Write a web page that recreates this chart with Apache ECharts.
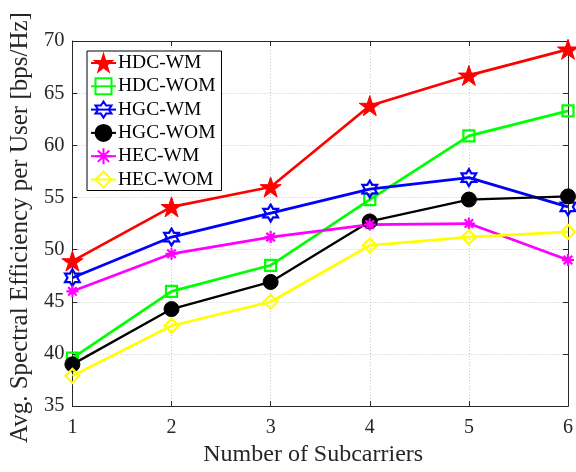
<!DOCTYPE html>
<html>
<head>
<meta charset="utf-8">
<script src="https://cdn.jsdelivr.net/npm/echarts@6/dist/echarts.min.js"></script>
<style>
  html, body { margin: 0; padding: 0; background: #fff; }
  #chart { width: 576px; height: 472px; }
</style>
</head>
<body>
<div id="chart"></div>
<script>
// Average spectral efficiency per user vs. number of subcarriers
const subcarriers = [1, 2, 3, 4, 5, 6];
const xTicks = [1, 2, 3, 4, 5, 6];
const yTicks = [35, 40, 45, 50, 55, 60, 65, 70];

const hdcWM  = [48.9, 54.1, 56.0, 63.8, 66.7, 69.2];
const hdcWOM = [39.6, 46.0, 48.5, 54.8, 60.9, 63.3];
const hgcWM  = [47.3, 51.2, 53.5, 55.8, 56.9, 54.1];
const hgcWOM = [39.0, 44.3, 46.9, 52.7, 54.8, 55.1];
const hecWM  = [46.0, 49.6, 51.2, 52.4, 52.5, 49.0];
const hecWOM = [37.9, 42.7, 45.0, 50.4, 51.2, 51.7];

const seriesNames = ['HDC-WM', 'HDC-WOM', 'HGC-WM', 'HGC-WOM', 'HEC-WM', 'HEC-WOM'];

const FONT = '"Liberation Serif", "Times New Roman", serif';
const INK = '#262626';

// marker shapes
const pentagram = 'path://M0,-1L0.2245,-0.309L0.951,-0.309L0.363,0.118L0.588,0.809L0,0.382L-0.588,0.809L-0.363,0.118L-0.951,-0.309L-0.2245,-0.309Z';
const hexagram = 'path://M0,-1L0.2887,-0.5L0.866,-0.5L0.577,0L0.866,0.5L0.2887,0.5L0,1L-0.2887,0.5L-0.866,0.5L-0.577,0L-0.866,-0.5L-0.2887,-0.5Z';
const asterisk = 'path://M0,-1L0,1M-1,0L1,0M-0.707,-0.707L0.707,0.707M-0.707,0.707L0.707,-0.707';

function pairs(values) {
  return subcarriers.map((x, i) => [x, values[i]]);
}

function makeSeries(name, values, color, symbol, size, filled, lineWidth) {
  return {
    name: name,
    type: 'line',
    data: pairs(values),
    symbol: symbol,
    symbolSize: size,
    symbolKeepAspect: true,
    showAllSymbol: true,
    lineStyle: { color: color, width: lineWidth },
    itemStyle: filled
      ? { color: color, borderColor: color, borderWidth: 1 }
      : { color: 'rgba(255,255,255,0)', borderColor: color, borderWidth: 2.2 },
    emphasis: { disabled: true },
    animation: false
  };
}

const series = [
  makeSeries(seriesNames[0], hdcWM,  '#ff0000', pentagram, 21, true, 2.7),
  makeSeries(seriesNames[1], hdcWOM, '#00ff00', 'rect',    11, false, 2.7),
  makeSeries(seriesNames[2], hgcWM,  '#0000ff', hexagram,  17, false, 2.7),
  makeSeries(seriesNames[3], hgcWOM, '#000000', 'circle',  15, true, 2.3),
  makeSeries(seriesNames[4], hecWM,  '#ff00ff', asterisk,  12, false, 2.7),
  makeSeries(seriesNames[5], hecWOM, '#ffff00', 'diamond', 14, false, 2.7)
];

const gridLine = { show: true, lineStyle: { color: '#c8c8c8', type: [1, 2], width: 1 } };
const boxLine = { show: true, onZero: false, lineStyle: { color: INK, width: 1 } };
const tickIn = { show: true, inside: true, length: 5, lineStyle: { color: INK, width: 1 } };

const chart = echarts.init(document.getElementById('chart'), null, { renderer: 'canvas' });
chart.setOption({
  backgroundColor: '#ffffff',
  animation: false,
  grid: { left: 71, right: 7, top: 41, bottom: 61, containLabel: false },
  legend: {
    data: seriesNames,
    orient: 'vertical',
    left: 87,
    top: 51,
    itemWidth: 25,
    itemHeight: 20,
    itemGap: 3.3,
    padding: [2, 6, 1, 3],
    backgroundColor: '#ffffff',
    borderColor: '#000000',
    borderWidth: 1,
    borderRadius: 0,
    selectedMode: false,
    textStyle: { fontFamily: FONT, fontSize: 19.5, color: '#000', lineHeight: 20, padding: [0, 0, 0, -3] }
  },
  xAxis: [
    {
      type: 'value', min: xTicks[0], max: xTicks[xTicks.length - 1], interval: 1,
      name: 'Number of Subcarriers', nameLocation: 'middle', nameGap: 35,
      nameTextStyle: { fontFamily: FONT, fontSize: 24, color: INK, padding: [0, 14, 0, 0] },
      axisLine: boxLine, axisTick: tickIn, splitLine: gridLine,
      axisLabel: { fontFamily: FONT, fontSize: 20, color: INK, margin: 12 }
    },
    {
      type: 'value', position: 'top', min: xTicks[0], max: xTicks[xTicks.length - 1], interval: 1,
      axisLine: boxLine, axisTick: tickIn, axisLabel: { show: false }, splitLine: { show: false }
    }
  ],
  yAxis: [
    {
      type: 'value', min: yTicks[0], max: yTicks[yTicks.length - 1], interval: 5,
      name: 'Avg. Spectral Efficiency per User [bps/Hz]', nameLocation: 'middle', nameGap: 31,
      nameTextStyle: { fontFamily: FONT, fontSize: 25, color: INK, padding: [0, 8, 0, 0] },
      axisLine: boxLine, axisTick: tickIn, splitLine: gridLine,
      axisLabel: { fontFamily: FONT, fontSize: 20.5, color: INK, margin: 8 }
    },
    {
      type: 'value', position: 'right', min: yTicks[0], max: yTicks[yTicks.length - 1], interval: 5,
      axisLine: boxLine, axisTick: tickIn, axisLabel: { show: false }, splitLine: { show: false }
    }
  ],
  series: series
});
</script>
</body>
</html>
